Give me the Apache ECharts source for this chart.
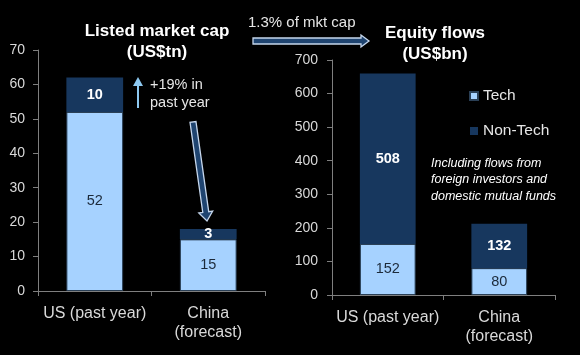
<!DOCTYPE html>
<html><head><meta charset="utf-8">
<script src="https://cdn.jsdelivr.net/npm/echarts@6/dist/echarts.min.js"></script>
<style>html,body{margin:0;padding:0;background:#000;}#c{width:580px;height:355px;}</style>
</head><body><div id="c"></div>
<script>
var categories = ['US (past year)', 'China\n(forecast)'];
var capTech = [52, 15];
var capNonTech = [10, 3];
var flowTech = [152, 80];
var flowNonTech = [508, 132];
var capTicks = [0, 10, 20, 30, 40, 50, 60, 70];
var flowTicks = [0, 100, 200, 300, 400, 500, 600, 700];

var LIGHT = '#A6D2FF', DARK = '#17375E';
var FONT = 'Liberation Sans, Arial, sans-serif';
var chart = echarts.init(document.getElementById('c'));

function arrowPoly(x1, y1, x2, y2, hw, hhw, hl) {
  var dx = x2 - x1, dy = y2 - y1, L = Math.sqrt(dx*dx + dy*dy);
  var ux = dx / L, uy = dy / L, nx = -uy, ny = ux;
  var bx = x2 - ux*hl, by = y2 - uy*hl;
  return [
    [x1 + nx*hw, y1 + ny*hw], [bx + nx*hw, by + ny*hw], [bx + nx*hhw, by + ny*hhw],
    [x2, y2],
    [bx - nx*hhw, by - ny*hhw], [bx - nx*hw, by - ny*hw], [x1 - nx*hw, y1 - ny*hw]
  ];
}

var axisCommon = {
  axisLine: {show: true, lineStyle: {color: '#7f7f7f', width: 1}},
  axisTick: {show: true, length: 5, lineStyle: {color: '#7f7f7f'}},
  splitLine: {show: false}
};

function barLabel(bold, color) {
  return {show: true, position: 'inside', color: color, fontFamily: FONT,
          fontSize: 14.5, fontWeight: bold ? 'bold' : 'normal'};
}

var option = {
  backgroundColor: '#000',
  animation: false,
  grid: [
    {left: 38, top: 50, width: 227, height: 241},
    {left: 332, top: 60, width: 223, height: 235}
  ],
  xAxis: [
    Object.assign({type: 'category', gridIndex: 0, data: categories}, axisCommon,
      {axisLabel: {interval: 0, color: '#d9d9d9', fontFamily: FONT, fontSize: 16, lineHeight: 19, margin: 13}}),
    Object.assign({type: 'category', gridIndex: 1, data: categories}, axisCommon,
      {axisLabel: {interval: 0, color: '#d9d9d9', fontFamily: FONT, fontSize: 16, lineHeight: 19, margin: 13}})
  ],
  yAxis: [
    Object.assign({type: 'value', gridIndex: 0, min: capTicks[0], max: capTicks[capTicks.length-1], interval: capTicks[1]-capTicks[0]}, axisCommon,
      {axisLabel: {color: '#d9d9d9', fontFamily: FONT, fontSize: 14, margin: 13}}),
    Object.assign({type: 'value', gridIndex: 1, min: flowTicks[0], max: flowTicks[flowTicks.length-1], interval: flowTicks[1]-flowTicks[0]}, axisCommon,
      {axisLabel: {color: '#d9d9d9', fontFamily: FONT, fontSize: 14, margin: 14}})
  ],
  legend: {
    orient: 'vertical', left: 464, top: 83, itemWidth: 8, itemHeight: 8, itemGap: 19,
    data: ['Tech', 'Non-Tech'], icon: 'rect',
    textStyle: {color: '#e6e6e6', fontFamily: FONT, fontSize: 15.5}
  },
  series: [
    {name: 'Tech', type: 'bar', stack: 'a', xAxisIndex: 0, yAxisIndex: 0, data: capTech, barWidth: '50%',
     itemStyle: {color: LIGHT, borderColor: '#2a3f55', borderWidth: 1}, label: barLabel(false, '#1c2a3a')},
    {name: 'Non-Tech', type: 'bar', stack: 'a', xAxisIndex: 0, yAxisIndex: 0, data: capNonTech, barWidth: '50%',
     itemStyle: {color: DARK}, label: barLabel(true, '#ffffff')},
    {name: 'Tech', type: 'bar', stack: 'b', xAxisIndex: 1, yAxisIndex: 1, data: flowTech, barWidth: '50%',
     itemStyle: {color: LIGHT, borderColor: '#2a3f55', borderWidth: 1}, label: barLabel(false, '#1c2a3a')},
    {name: 'Non-Tech', type: 'bar', stack: 'b', xAxisIndex: 1, yAxisIndex: 1, data: flowNonTech, barWidth: '50%',
     itemStyle: {color: DARK}, label: barLabel(true, '#ffffff')}
  ],
  graphic: [
    {type: 'text', style: {text: 'Listed market cap\n(US$tn)', fill: '#ffffff', font: 'bold 17px ' + FONT, align: 'center', lineHeight: 21, x: 157, y: 21}},
    {type: 'text', style: {text: 'Equity flows\n(US$bn)', fill: '#ffffff', font: 'bold 17px ' + FONT, align: 'center', lineHeight: 21, x: 435, y: 23}},
    {type: 'text', style: {text: '1.3% of mkt cap', fill: '#e6e6e6', font: '15px ' + FONT, x: 248, y: 15}},
    {type: 'polygon', shape: {points: arrowPoly(253, 41, 369, 41, 3, 6, 8)},
     style: {fill: '#1f4470', stroke: '#c5d6ec', lineWidth: 1.3}},
    {type: 'polygon', shape: {points: arrowPoly(193, 122, 207, 221, 3, 7, 9)},
     style: {fill: '#1f4470', stroke: '#c5d6ec', lineWidth: 1.3}},
    {type: 'line', shape: {x1: 138, y1: 108, x2: 138, y2: 84}, style: {stroke: '#8DC8F0', lineWidth: 2}},
    {type: 'polygon', shape: {points: [[133, 86], [138, 77], [143, 86]]}, style: {fill: '#8DC8F0'}},
    {type: 'text', style: {text: '+19% in\npast year', fill: '#e6e6e6', font: '14.5px ' + FONT, lineHeight: 18, x: 150, y: 76}},
    {type: 'text', style: {text: 'Including flows from\nforeign investors and\ndomestic mutual funds', fill: '#ffffff', font: 'italic 12.5px ' + FONT, lineHeight: 16.5, x: 431, y: 155}}
  ]
};
chart.setOption(option);
</script>
</body></html>
